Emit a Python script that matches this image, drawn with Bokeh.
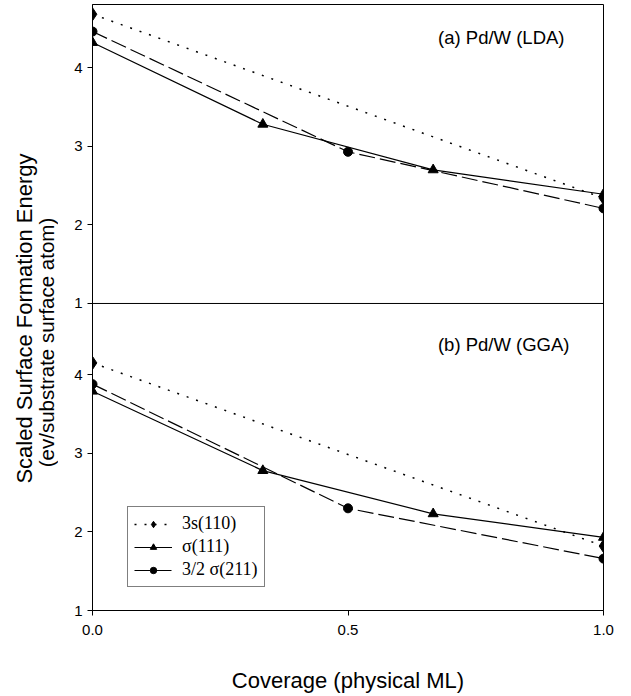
import math
from bokeh.plotting import figure
from bokeh.layouts import row
from bokeh.models import (Range1d, FixedTicker, NumeralTickFormatter, Label, Span,
                          CustomJSTickFormatter)
from bokeh.embed import file_html
from bokeh.resources import INLINE

# ---- data ----
x_110 = [0.0, 1.0]
x_111 = [0.0, 1 / 3, 2 / 3, 1.0]
x_211 = [0.0, 0.5, 1.0]

lda_110 = [4.68, 2.34]
lda_111 = [4.32, 3.28, 2.70, 2.39]
lda_211 = [4.46, 2.93, 2.21]

gga_110 = [4.15, 1.82]
gga_111 = [3.79, 2.78, 2.23, 1.93]
gga_211 = [3.88, 2.30, 1.66]

y_ticks = [1, 2, 3, 4]
x_ticks = [0.0, 0.5, 1.0]
series_labels = ["3s(110)", "σ(111)", "3/2 σ(211)"]
panel_labels = ["(a) Pd/W (LDA)", "(b) Pd/W (GGA)"]
x_title = "Coverage (physical ML)"
y_title = ["Scaled Surface Formation Energy", "(ev/substrate surface atom)"]

# panel extents (value axis): each panel starts at 1
GGA_TOP = 4.90625   # top of lower panel (GGA)
LDA_TOP = 4.804     # top of upper panel (LDA)

SANS = "Liberation Sans"
SERIF = "Liberation Serif"

BORDER_TOP = 4
BORDER_BOTTOM = 86

# ---- label column (shared y-axis title) ----
lab = figure(width=58, height=696, output_backend="svg", toolbar_location=None,
             x_axis_location=None, y_axis_location=None,
             min_border_left=0, min_border_right=0,
             min_border_top=BORDER_TOP, min_border_bottom=BORDER_BOTTOM)
lab.outline_line_color = None
lab.xgrid.visible = False
lab.ygrid.visible = False
lab.add_layout(Label(x=24, y=292, x_units="screen", y_units="screen", text=y_title[0],
                     angle=math.pi / 2, text_align="center", text_baseline="middle",
                     text_font=SANS, text_font_size="22px", text_color="black"))
lab.add_layout(Label(x=46, y=268, x_units="screen", y_units="screen", text=y_title[1],
                     angle=math.pi / 2, text_align="center", text_baseline="middle",
                     text_font=SANS, text_font_size="20.5px", text_color="black"))

# ---- main figure: lower panel on the default range, upper panel on "lda" ----
span_top = LDA_TOP - 1
p = figure(width=573, height=696, output_backend="svg", toolbar_location=None,
           x_range=Range1d(0, 1), y_range=Range1d(1, GGA_TOP + span_top),
           min_border_left=34, min_border_right=28,
           min_border_top=BORDER_TOP, min_border_bottom=BORDER_BOTTOM)
p.extra_y_ranges = {"lda": Range1d(1 - (GGA_TOP - 1), LDA_TOP)}
p.outline_line_color = "black"
p.outline_line_width = 1
p.xgrid.visible = False
p.ygrid.visible = False

ya = p.yaxis[0]
ya.ticker = FixedTicker(ticks=y_ticks + [GGA_TOP + t - 1 for t in y_ticks])
ya.formatter = CustomJSTickFormatter(args=dict(split=GGA_TOP), code="""
    if (tick > split - 1e-6) { return (tick - split + 1).toFixed(0); }
    return tick.toFixed(0);
""")
ya.minor_tick_line_color = None
ya.major_tick_in = 0
ya.major_tick_out = 5
ya.major_label_standoff = 5
ya.major_label_text_font = SANS
ya.major_label_text_font_size = "15px"
ya.major_label_text_color = "black"
ya.axis_line_color = "black"
ya.major_tick_line_color = "black"

xa = p.xaxis[0]
xa.ticker = FixedTicker(ticks=x_ticks)
xa.formatter = NumeralTickFormatter(format="0.0")
xa.minor_tick_line_color = None
xa.major_tick_in = 0
xa.major_tick_out = 5
xa.major_label_standoff = 9
xa.major_label_text_font = SANS
xa.major_label_text_font_size = "15px"
xa.major_label_text_color = "black"
xa.axis_line_color = "black"
xa.major_tick_line_color = "black"
xa.axis_label = x_title
xa.axis_label_standoff = 30
xa.axis_label_text_font = SANS
xa.axis_label_text_font_size = "22px"
xa.axis_label_text_font_style = "normal"
xa.axis_label_text_color = "black"

# divider between the panels
p.add_layout(Span(location=GGA_TOP, dimension="width", line_color="black", line_width=1))


def draw(ys, rng, legend):
    y110, y111, y211 = ys
    kw = lambda i: {"legend_label": series_labels[i]} if legend else {}
    p.line(x_110, y110, line_color="black", line_width=1.5, line_dash="2 8",
           y_range_name=rng, **kw(0))
    p.scatter(x_110, y110, marker="diamond", size=13, color="black", y_range_name=rng, **kw(0))
    p.line(x_111, y111, line_color="black", line_width=1.2, y_range_name=rng, **kw(1))
    p.scatter(x_111, y111, marker="triangle", size=10, color="black", y_range_name=rng, **kw(1))
    p.line(x_211, y211, line_color="black", line_width=1.2, line_dash="16 5",
           y_range_name=rng, **kw(2))
    p.scatter(x_211, y211, marker="circle", size=9, color="black", y_range_name=rng, **kw(2))


draw((lda_110, lda_111, lda_211), "lda", legend=False)
draw((gga_110, gga_111, gga_211), "default", legend=True)

p.add_layout(Label(x=472, y=573, x_units="screen", y_units="screen", text=panel_labels[0],
                   text_align="right", text_baseline="middle",
                   text_font=SANS, text_font_size="18.5px", text_color="black"))
p.add_layout(Label(x=477, y=266, x_units="screen", y_units="screen", text=panel_labels[1],
                   text_align="right", text_baseline="middle",
                   text_font=SANS, text_font_size="18.5px", text_color="black"))

lg = p.legend[0]
lg.location = (35, 23)
lg.border_line_color = "black"
lg.border_line_width = 1
lg.background_fill_color = "white"
lg.background_fill_alpha = 1
lg.label_text_font = SERIF
lg.label_text_font_size = "18px"
lg.label_text_color = "black"
lg.glyph_width = 38
lg.glyph_height = 16
lg.label_height = 20
lg.label_standoff = 10
lg.spacing = 2
lg.padding = 6
lg.margin = 0

layout = row(lab, p)
open("out.html", "w").write(file_html(layout, INLINE))
